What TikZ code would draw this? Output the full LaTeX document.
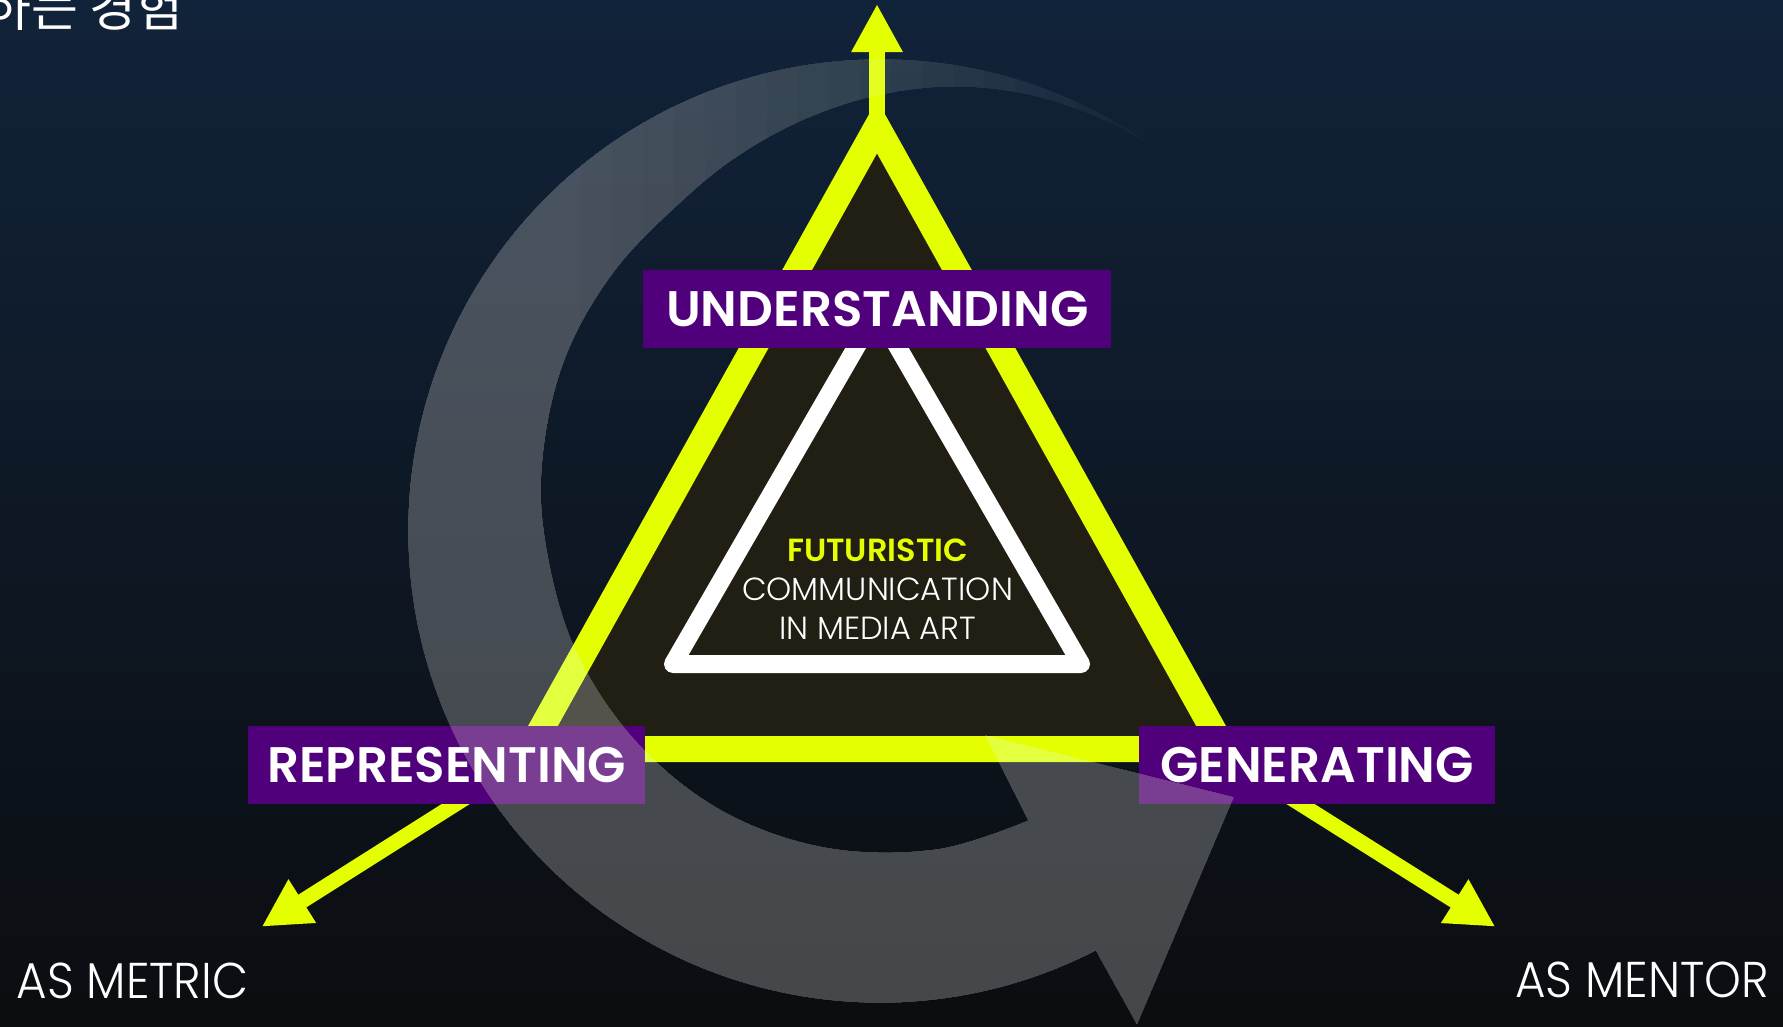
\documentclass[tikz,border=0pt]{standalone}
\usepackage{fontspec}
\setmainfont{Poppins}
\newfontfamily\lightfont{Poppins Light}
\newfontfamily\lightnarrow{Poppins Light}[FakeStretch=0.93]
\newfontfamily\headfont{Poppins SemiBold}
\newfontfamily\krfont{Noto Sans CJK KR}
\usetikzlibrary{arrows.meta, positioning}

\definecolor{bgtop}{RGB}{17,35,58}
\definecolor{bgmid}{RGB}{14,22,36}
\definecolor{bgbot}{RGB}{11,13,16}
\definecolor{lime}{RGB}{228,255,0}
\definecolor{deeppurple}{RGB}{81,0,123}
\definecolor{darkolive}{RGB}{33,30,19}

\tikzset{
    stagebox/.style={fill=deeppurple, text=white, inner sep=0pt, minimum height=0.777cm,
        text height=0.35cm, text depth=0pt, font=\headfont\fontsize{14.2}{14.2}\selectfont},
    pointer/.style={draw=lime, line width=0.15cm, -{Triangle[width=0.48cm, length=0.48cm]}},
    thintext/.style={text=white, inner sep=0pt, font=\lightnarrow\fontsize{14.3}{14.3}\selectfont},
    coretext/.style={inner sep=0pt, anchor=base, font=\lightfont\fontsize{9.1}{9.1}\selectfont}
}

\begin{document}
\begin{tikzpicture}[x=0.01cm, y=0.01cm]
                        \path[use as bounding box, clip] (0, 0) rectangle (1783, 1026);
                        \shade[top color=bgtop, middle color=bgmid, bottom color=bgbot]
                        (0, 0) rectangle (1783, 1026);

                        % triangle
                        \coordinate (apex) at (877, 899.3);
                        \coordinate (cornerL) at (530.1, 277);
                        \coordinate (cornerR) at (1223.9, 277);
                        \draw[lime, line width=0.26cm, fill=darkolive, line join=miter]
                        (apex) -- (cornerL) -- (cornerR) -- cycle;
                        \draw[white, line width=0.18cm, line join=round]
                        (877, 715) -- (673, 362) -- (1081, 362) -- cycle;

                        % arrows
                        \coordinate (upTip) at (877, 1022);
                        \coordinate (leftFoot) at (500, 250);
                        \coordinate (leftTip) at (261.7, 99.3);
                        \coordinate (rightFoot) at (1256, 250);
                        \coordinate (rightTip) at (1495.3, 99.3);
                        \draw[pointer, line width=0.16cm] (apex) -- (upTip);
                        \draw[pointer] (leftFoot) -- (leftTip);
                        \draw[pointer] (rightFoot) -- (rightTip);

                        % labels
                        \node[stagebox, minimum width=4.674cm] (understanding) at (877.3, 716.7) {UNDERSTANDING};
                        \node[stagebox, minimum width=3.967cm] (representing) at (446.7, 261.2) {REPRESENTING};
                        \node[stagebox, minimum width=3.558cm] (generating) at (1317.1, 261.2) {GENERATING};

                        \node[coretext, text=lime, font=\headfont\fontsize{9.1}{9.1}\selectfont] (futuristic) at (877.5, 464.3) {FUTURISTIC};
                        \node[coretext, text=white] (communication) at (877.5, 425.3) {COMMUNICATION};
                        \node[coretext, text=white] (mediaart) at (877.5, 387) {IN MEDIA ART};

                        \node[thintext, anchor=base west] (asmetric) at (16, 28) {AS METRIC};
                        \node[thintext, anchor=base east] (asmentor) at (1769.4, 28.3) {AS MENTOR};

                        % ring
                        \begin{scope}
                            \clip ([shift={(880, 495)}]53:472) arc[start angle=53, end angle=297.2, radius=472]
                            -- (1137, 1) -- (1234, 229) -- (985, 291)
                            -- plot[smooth, tension=0.6] coordinates {
                                (1028, 205.7) (936.1, 176.9) (824.3, 178.9) (719.5, 217) (633.3, 288)
                                (572.7, 383.2) (544, 495) (544.8, 584.8) (568.2, 675) (617, 758)
                                (687, 829.3) (742.5, 872.8) (807.2, 907.6) (880, 931) (958.3, 939.2)
                                (1038, 929.1) (1114.5, 901.2) (1164.1, 872)}
                            -- cycle;
                            \foreach \k in {0,...,19} {
                                \fill[white, opacity=0.0156]
                                (400, 0) -- (1240, 0) -- (1240, 650) -- ({1170-31*\k}, 650)
                                -- ({1170-31*\k}, 980) -- (400, 980) -- cycle;
                            }
                        \end{scope}

                        \node[anchor=base west, inner sep=0pt, text=white, font=\krfont\fontsize{14.5}{14.5}\selectfont] (heading) at (-16, 1000) {하는 경험};
                    \end{tikzpicture}
\end{document}
